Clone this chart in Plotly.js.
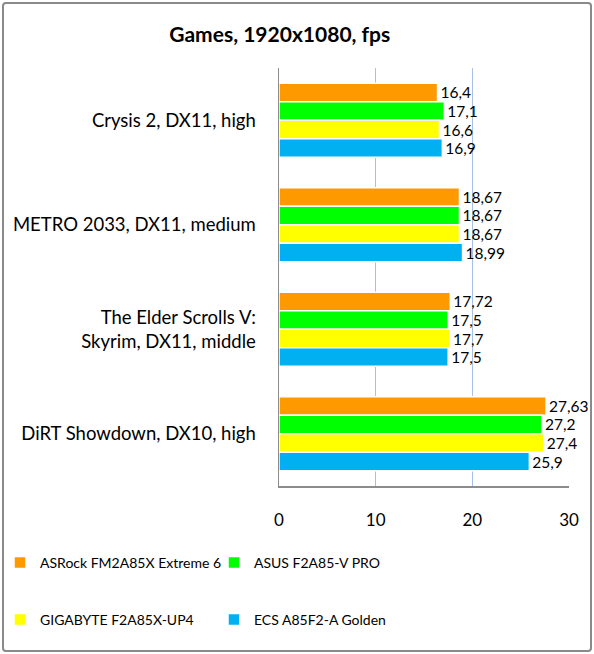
<!DOCTYPE html>
<html><head><meta charset="utf-8">
<script src="https://cdn.plot.ly/plotly-3.0.1.min.js"></script>
<style>
html,body{margin:0;padding:0;background:#fff;}
#wrap{position:relative;width:594px;height:654px;}
#chart{position:absolute;left:0;top:0;width:594px;height:654px;}
#frame{position:absolute;left:2px;top:2px;width:590px;height:650px;box-sizing:border-box;border:2px solid #8a8a8a;border-radius:4px;pointer-events:none;}
</style></head>
<body><div id="wrap"><div id="chart"></div><div id="frame"></div></div>
<script>
const categories = ["Crysis 2, DX11, high", "METRO 2033, DX11, medium", "The Elder Scrolls V:<br>Skyrim, DX11, middle", "DiRT Showdown, DX10, high"];
const seriesNames = ["ASRock FM2A85X Extreme 6", "ASUS F2A85-V PRO", "GIGABYTE F2A85X-UP4", "ECS A85F2-A Golden"];
const asrock = [16.4, 18.67, 17.72, 27.63];
const asus = [17.1, 18.67, 17.5, 27.2];
const gigabyte = [16.6, 18.67, 17.7, 27.4];
const ecs = [16.9, 18.99, 17.5, 25.9];
const xTicks = [0, 10, 20, 30];
const colors = ["#FF9900", "#00FF00", "#FFFF00", "#00B0F0"];
const legendIds = ["legend", "legend2", "legend3", "legend4"];

const FONT = "Lato, Open Sans, sans-serif";
const fmt = v => String(v).replace('.', ',');
const allSeries = [asrock, asus, gigabyte, ecs];
const traces = allSeries.map((vals, i) => ({
  type: 'bar', orientation: 'h', name: seriesNames[i],
  y: categories, x: vals,
  text: vals.map(fmt), textposition: 'outside', cliponaxis: false,
  constraintext: 'none',
  textfont: {family: FONT, size: 15.5, color: '#000'},
  marker: {color: colors[i], line: {color: '#ffffff', width: 1.5}},
  legend: legendIds[i], hoverinfo: 'skip'
}));

const W = 594, H = 654;
const mkLegend = (leftPx, topPx) => ({
  orientation: 'h', xref: 'container', yref: 'container', x: leftPx / W, y: 1 - topPx / H,
  xanchor: 'left', yanchor: 'top', bgcolor: 'rgba(0,0,0,0)',
  font: {family: FONT, size: 14, color: '#000'}
});

const layout = {
  width: W, height: H,
  margin: {l: 279, r: 25, t: 68, b: 168, autoexpand: false},
  paper_bgcolor: '#fff', plot_bgcolor: '#fff',
  font: {family: FONT, color: '#000'},
  title: {text: '<b>Games, 1920x1080, fps</b>', font: {family: FONT, size: 21, color: '#000'},
    xref: 'container', x: 0.471, xanchor: 'center', yref: 'container', y: 1 - 35/654, yanchor: 'middle'},
  barmode: 'group', bargap: 0.29, bargroupgap: 0,
  xaxis: {range: [0, 30], tickvals: xTicks, ticktext: xTicks.map(String),
    showgrid: true, gridcolor: '#A9C0E6', gridwidth: 1.5, zeroline: false,
    showline: true, linecolor: '#8c8c8c', linewidth: 1.5, ticks: '',
    ticklabelstandoff: 18, tickfont: {family: FONT, size: 17, color: '#000'}, fixedrange: true},
  yaxis: {type: 'category', autorange: 'reversed', showline: true, linecolor: '#8c8c8c', linewidth: 1.5,
    showgrid: false, ticks: '', ticklabelstandoff: 18,
    tickfont: {family: FONT, size: 18.5, color: '#000'}, fixedrange: true},
  legend: mkLegend(0, 547),
  legend2: mkLegend(214, 547),
  legend3: mkLegend(0, 604),
  legend4: mkLegend(214, 604),
  showlegend: true
};
Plotly.newPlot('chart', traces, layout, {displayModeBar: false, staticPlot: true});
</script></body></html>
